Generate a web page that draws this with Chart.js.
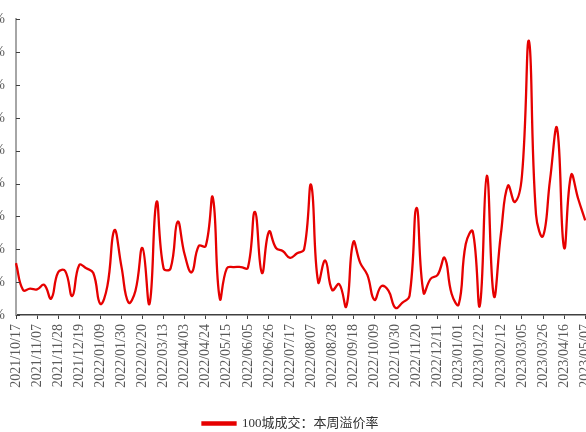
<!DOCTYPE html>
<html>
<head>
<meta charset="utf-8">
<script src="https://cdn.jsdelivr.net/npm/chart.js@4/dist/chart.umd.min.js"></script>
<style>
  html, body { margin: 0; padding: 0; background: #fff; overflow: hidden; }
  body { width: 586px; height: 432px; position: relative; }
  #wrap { position: absolute; left: -16px; top: 0; width: 623px; height: 440px; }
</style>
</head>
<body>
<div id="wrap"><canvas id="myChart"></canvas></div>
<script>
// weekly dates
const weeks = [
  "2021/10/17","2021/10/24","2021/10/31","2021/11/07","2021/11/14","2021/11/21","2021/11/28","2021/12/05","2021/12/12","2021/12/19","2021/12/26",
  "2022/01/02","2022/01/09","2022/01/16","2022/01/23","2022/01/30","2022/02/06","2022/02/13","2022/02/20","2022/02/27","2022/03/06","2022/03/13",
  "2022/03/20","2022/03/27","2022/04/03","2022/04/10","2022/04/17","2022/04/24","2022/05/01","2022/05/08","2022/05/15","2022/05/22","2022/05/29",
  "2022/06/05","2022/06/12","2022/06/19","2022/06/26","2022/07/03","2022/07/10","2022/07/17","2022/07/24","2022/07/31","2022/08/07","2022/08/14",
  "2022/08/21","2022/08/28","2022/09/04","2022/09/11","2022/09/18","2022/09/25","2022/10/02","2022/10/09","2022/10/16","2022/10/23","2022/10/30",
  "2022/11/06","2022/11/13","2022/11/20","2022/11/27","2022/12/04","2022/12/11","2022/12/18","2022/12/25",
  "2023/01/01","2023/01/08","2023/01/15","2023/01/22","2023/01/29","2023/02/05","2023/02/12","2023/02/19","2023/02/26","2023/03/05","2023/03/12",
  "2023/03/19","2023/03/26","2023/04/02","2023/04/09","2023/04/16","2023/04/23","2023/04/30","2023/05/07"
];

// 100城成交：本周溢价率 (%)
const premiumRate = [
  7.9, 3.8, 4.0, 3.9, 4.6, 2.5, 6.5, 6.7, 2.9, 7.6, 7.1,
  6.4, 1.7, 4.4, 12.9, 7.4, 1.9, 3.7, 10.2, 1.7, 17.2, 7.1,
  7.1, 14.2, 9.2, 6.5, 10.5, 10.5, 17.9, 2.5, 7.1, 7.3, 7.3,
  7.2, 15.7, 6.4, 12.7, 10.2, 9.7, 8.7, 9.4, 10.0, 19.8, 5.0,
  8.3, 3.8, 4.7, 1.3, 11.1, 7.9, 6.1, 2.3, 4.4, 3.7, 1.1,
  1.9, 2.9, 16.3, 3.4, 5.5, 6.1, 8.7, 3.2,
  1.6, 10.8, 12.7, 1.4, 21.2, 2.9, 12.3, 19.7, 17.2, 21.2, 41.7,
  15.3, 12.0, 20.6, 28.4, 10.2, 21.3, 17.7, 14.4
];

const yTicks = [0, 5, 10, 15, 20, 25, 30, 35, 40, 45];
const labelEvery = 3;

const serif = '"Liberation Serif", "Noto Sans CJK SC", serif';

// small tick marks pointing into the plot on the y axis
const innerTicks = {
  id: 'innerTicks',
  afterDraw(chart) {
    const ctx = chart.ctx;
    const y = chart.scales.y;
    const left = chart.chartArea.left;
    ctx.save();
    ctx.strokeStyle = '#404040';
    ctx.lineWidth = 1;
    yTicks.forEach(v => {
      const py = Math.round(y.getPixelForValue(v)) + 0.5;
      ctx.beginPath();
      ctx.moveTo(left, py);
      ctx.lineTo(left + 4, py);
      ctx.stroke();
    });
    ctx.restore();
  }
};

const ctx = document.getElementById('myChart').getContext('2d');
const myChart = new Chart(ctx, {
  type: 'line',
  data: {
    labels: weeks,
    datasets: [{
      label: '100城成交：本周溢价率',
      data: premiumRate,
      borderColor: '#e60000',
      backgroundColor: '#e60000',
      borderWidth: 2.3,
      pointRadius: 0,
      tension: 0.45,
      fill: false
    }]
  },
  options: {
    responsive: true,
    maintainAspectRatio: false,
    animation: false,
    layout: { padding: { top: 16, right: 10, left: 0, bottom: 0 } },
    plugins: {
      tooltip: { enabled: false },
      legend: {
        position: 'bottom',
        labels: {
          boxWidth: 33,
          boxHeight: 2,
          padding: 10,
          color: '#333',
          font: { family: serif, size: 13 }
        }
      }
    },
    scales: {
      x: {
        offset: false,
        grid: { display: true, drawOnChartArea: false, drawTicks: true, tickLength: 4, color: '#404040' },
        border: { display: true, color: '#404040', width: 1.5 },
        ticks: {
          autoSkip: false,
          maxRotation: 90,
          minRotation: 90,
          padding: 5,
          color: '#595959',
          font: { family: serif, size: 14 },
          callback: function(value, index) {
            return index % labelEvery === 0 ? this.getLabelForValue(value) : null;
          }
        },
        afterFit: function(scale) { scale.height = 92; }
      },
      y: {
        min: 0,
        max: 45,
        grid: { display: true, drawOnChartArea: false, drawTicks: false },
        border: { display: true, color: '#a6a6a6', width: 2 },
        ticks: {
          stepSize: 5,
          padding: 11,
          color: '#595959',
          font: { family: serif, size: 14 },
          callback: value => value + '%'
        },
        afterFit: function(scale) { scale.width = 32; }
      }
    }
  },
  plugins: [innerTicks]
});
</script>
</body>
</html>
